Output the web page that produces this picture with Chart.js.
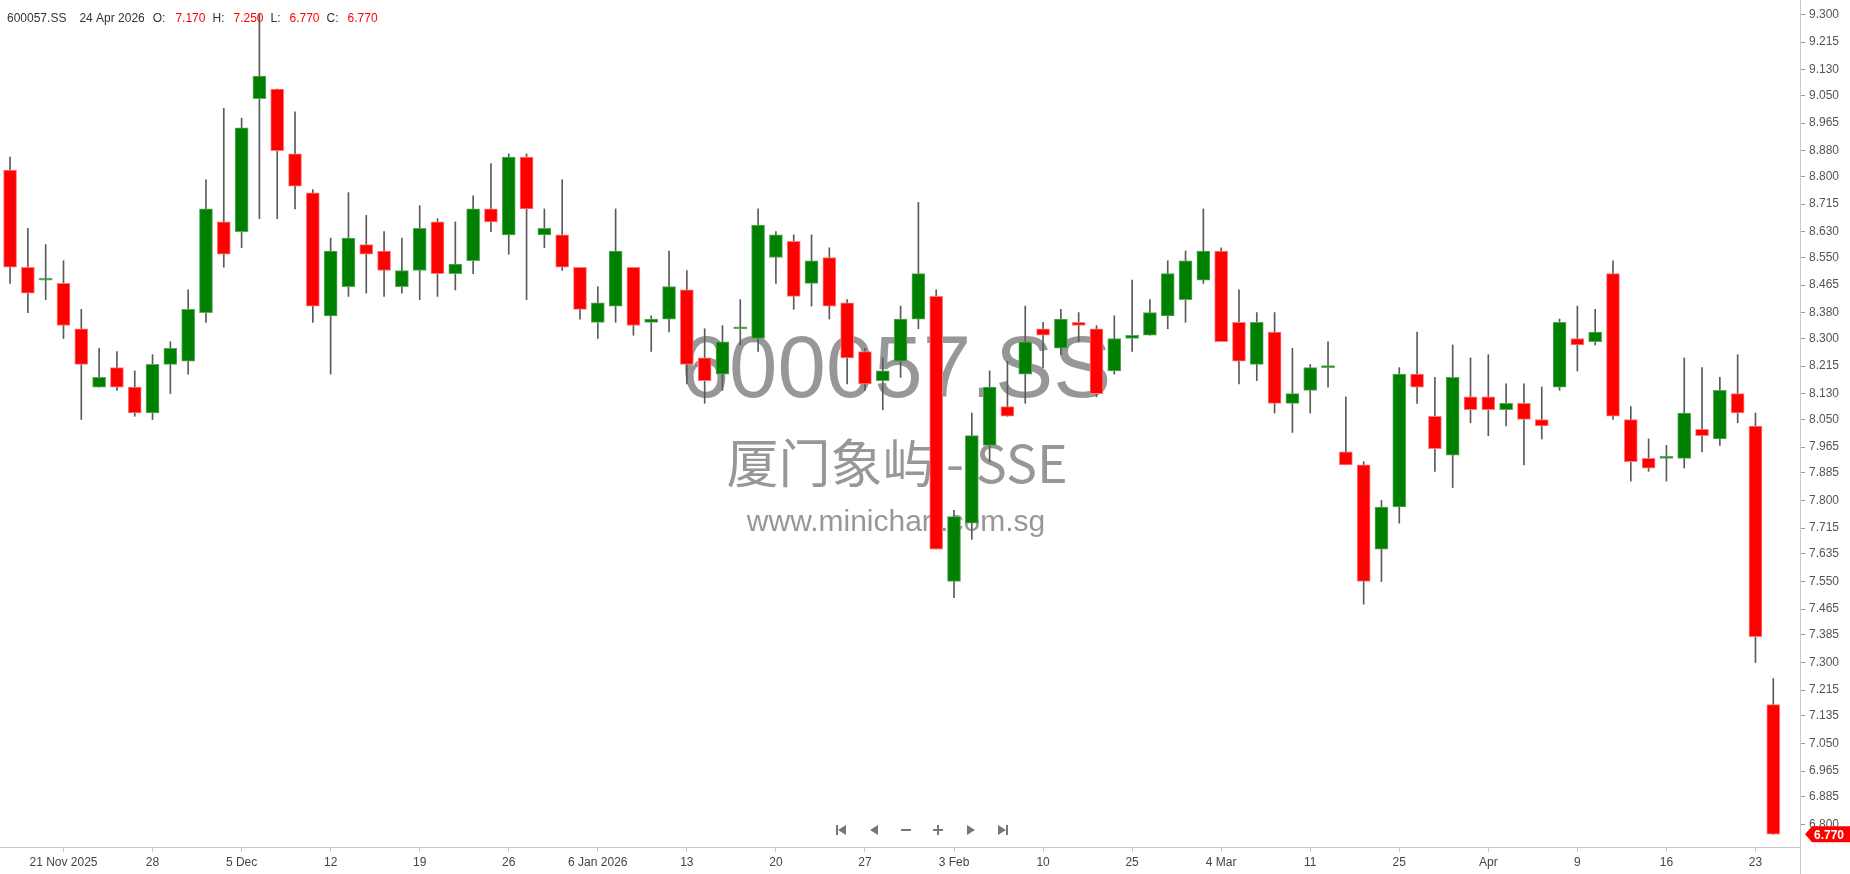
<!DOCTYPE html>
<html>
<head>
<meta charset="utf-8">
<title>600057.SS</title>
<script src="https://cdn.jsdelivr.net/npm/chart.js@4.4.1/dist/chart.umd.min.js"></script>
<style>
  html, body { margin: 0; padding: 0; background: #fff; }
  canvas { display: block; }
</style>
</head>
<body>
<canvas id="priceChart" width="1850" height="874"></canvas>
<script>
// daily candles, 18 Nov 2025 .. 24 Apr 2026
const symbol = '600057.SS';
const watermarkName = '厦门象屿 - SSE';
const watermarkSite = 'www.minichart.com.sg';
const lastDate = '24 Apr 2026';

const opens = [8.82, 8.52, 8.48, 8.47, 8.33, 8.15, 8.21, 8.15, 8.07, 8.22,
  8.23, 8.38, 8.66, 8.63, 9.04, 9.07, 8.87, 8.75, 8.37, 8.46,
  8.59, 8.57, 8.46, 8.51, 8.66, 8.50, 8.54, 8.70, 8.62, 8.86,
  8.62, 8.62, 8.52, 8.35, 8.40, 8.52, 8.35, 8.36, 8.45, 8.24,
  8.19, 8.33, 8.30, 8.55, 8.60, 8.47, 8.55, 8.41, 8.26, 8.17,
  8.23, 8.36, 8.43, 7.55, 7.73, 7.97, 8.09, 8.19, 8.33, 8.27,
  8.35, 8.33, 8.20, 8.30, 8.31, 8.37, 8.42, 8.48, 8.57, 8.35,
  8.22, 8.32, 8.10, 8.14, 8.21, 7.95, 7.91, 7.65, 7.78, 8.19,
  8.06, 7.94, 8.12, 8.12, 8.08, 8.10, 8.05, 8.15, 8.30, 8.29,
  8.50, 8.05, 7.93, 7.93, 7.93, 8.02, 7.99, 8.13, 8.03, 7.17];

const highs = [8.86, 8.64, 8.59, 8.54, 8.39, 8.27, 8.26, 8.20, 8.25, 8.29,
  8.45, 8.79, 9.01, 8.98, 9.30, 9.07, 9.00, 8.76, 8.61, 8.75,
  8.68, 8.63, 8.61, 8.71, 8.67, 8.66, 8.74, 8.84, 8.87, 8.87,
  8.70, 8.79, 8.52, 8.46, 8.70, 8.52, 8.37, 8.57, 8.51, 8.33,
  8.34, 8.42, 8.70, 8.63, 8.62, 8.62, 8.58, 8.42, 8.27, 8.24,
  8.40, 8.72, 8.45, 7.77, 8.07, 8.20, 8.23, 8.40, 8.35, 8.39,
  8.38, 8.34, 8.37, 8.48, 8.42, 8.54, 8.57, 8.70, 8.58, 8.45,
  8.38, 8.38, 8.27, 8.22, 8.29, 8.12, 7.92, 7.80, 8.21, 8.32,
  8.18, 8.28, 8.24, 8.25, 8.16, 8.16, 8.15, 8.36, 8.40, 8.39,
  8.54, 8.09, 7.99, 7.97, 8.24, 8.21, 8.18, 8.25, 8.07, 7.25];

const lows = [8.47, 8.38, 8.42, 8.30, 8.05, 8.15, 8.14, 8.06, 8.05, 8.13,
  8.19, 8.35, 8.52, 8.58, 8.67, 8.67, 8.70, 8.35, 8.19, 8.43,
  8.44, 8.43, 8.44, 8.42, 8.43, 8.45, 8.50, 8.63, 8.56, 8.42,
  8.58, 8.51, 8.36, 8.30, 8.35, 8.31, 8.26, 8.32, 8.16, 8.10,
  8.14, 8.28, 8.26, 8.47, 8.39, 8.40, 8.36, 8.16, 8.14, 8.08,
  8.18, 8.33, 7.65, 7.50, 7.68, 7.92, 8.06, 8.10, 8.21, 8.25,
  8.29, 8.12, 8.19, 8.26, 8.31, 8.33, 8.35, 8.47, 8.29, 8.16,
  8.17, 8.07, 8.01, 8.07, 8.15, 7.91, 7.48, 7.55, 7.73, 8.10,
  7.89, 7.84, 8.04, 8.00, 8.03, 7.91, 7.99, 8.14, 8.20, 8.28,
  8.05, 7.86, 7.89, 7.86, 7.90, 7.95, 7.97, 8.04, 7.30, 6.77];

const closes = [8.52, 8.44, 8.48, 8.34, 8.22, 8.18, 8.15, 8.07, 8.22, 8.27,
  8.39, 8.70, 8.56, 8.95, 9.11, 8.88, 8.77, 8.40, 8.57, 8.61,
  8.56, 8.51, 8.51, 8.64, 8.50, 8.53, 8.70, 8.66, 8.86, 8.70,
  8.64, 8.52, 8.39, 8.41, 8.57, 8.34, 8.36, 8.46, 8.22, 8.17,
  8.29, 8.33, 8.65, 8.62, 8.43, 8.54, 8.40, 8.24, 8.16, 8.20,
  8.36, 8.50, 7.65, 7.75, 8.00, 8.15, 8.06, 8.29, 8.31, 8.36,
  8.34, 8.13, 8.30, 8.31, 8.38, 8.50, 8.54, 8.57, 8.29, 8.23,
  8.35, 8.10, 8.13, 8.21, 8.21, 7.91, 7.55, 7.78, 8.19, 8.15,
  7.96, 8.18, 8.08, 8.08, 8.10, 8.05, 8.03, 8.35, 8.28, 8.32,
  8.06, 7.92, 7.90, 7.93, 8.07, 8.00, 8.14, 8.07, 7.38, 6.77];

// date axis: candle index of each label, and its text
const xTickPos = [3, 8, 13, 18, 23, 28, 33, 38, 43, 48, 53, 58, 63, 68, 73, 78, 83, 88, 93, 98];
const xTickLabels = ['21 Nov 2025', '28', '5 Dec', '12', '19', '26', '6 Jan 2026', '13', '20', '27',
  '3 Feb', '10', '25', '4 Mar', '11', '25', 'Apr', '9', '16', '23'];

const yTickLabels = ['9.300', '9.215', '9.130', '9.050', '8.965', '8.880', '8.800', '8.715',
  '8.630', '8.550', '8.465', '8.380', '8.300', '8.215', '8.130', '8.050', '7.965', '7.885',
  '7.800', '7.715', '7.635', '7.550', '7.465', '7.385', '7.300', '7.215', '7.135', '7.050',
  '6.965', '6.885', '6.800'];

const UP = '#008000', DOWN = '#ff0000';
const FONT = '"Liberation Sans", Arial, sans-serif';

const isUp = i => closes[i] >= opens[i];
const bodies = opens.map((o, i) => ({ x: i, y: [o, closes[i]] }));
const wicks = lows.map((l, i) => ({ x: i, y: [l, highs[i]] }));

// text and extras drawn straight on the canvas
const overlay = {
  id: 'overlay',
  beforeDatasetsDraw(chart) {
    const { ctx, chartArea } = chart;
    const cx = (chartArea.left + chartArea.right) / 2;
    ctx.save();
    ctx.textAlign = 'center';
    ctx.textBaseline = 'alphabetic';
    ctx.fillStyle = 'rgba(140,140,140,0.9)';
    ctx.font = '87px ' + FONT;
    ctx.fillText(symbol, cx - 4, 397);
    ctx.font = '52px "Noto Sans CJK SC", ' + FONT;
    ctx.fillText(watermarkName, cx - 3, 483);
    ctx.font = '30px ' + FONT;
    ctx.fillText(watermarkSite, cx - 4, 531);
    ctx.restore();
  },
  afterDraw(chart) {
    const { ctx, chartArea } = chart;
    const y = chart.scales.y;
    const n = closes.length - 1;
    ctx.save();

    // header line
    ctx.font = '12px ' + FONT;
    ctx.textBaseline = 'alphabetic';
    ctx.textAlign = 'left';
    const parts = [
      [symbol, '#333', 13], [lastDate, '#333', 8],
      ['O:', '#333', 10], [opens[n].toFixed(3), DOWN, 7],
      ['H:', '#333', 9], [highs[n].toFixed(3), DOWN, 7],
      ['L:', '#333', 9], [lows[n].toFixed(3), DOWN, 7],
      ['C:', '#333', 9], [closes[n].toFixed(3), DOWN, 0]
    ];
    let hx = 7;
    parts.forEach(([t, c, gap]) => {
      ctx.fillStyle = c;
      ctx.fillText(t, hx, 22);
      hx += ctx.measureText(t).width + gap;
    });

    // axis lines run on into the corner
    ctx.strokeStyle = '#c8c8c8';
    ctx.lineWidth = 1;
    ctx.beginPath();
    ctx.moveTo(chartArea.right + 0.5, chartArea.bottom);
    ctx.lineTo(chartArea.right + 0.5, chart.height);
    ctx.stroke();

    // last price tag
    const ty = y.getPixelForValue(closes[n]);
    const tx = chartArea.right + 5;
    ctx.fillStyle = DOWN;
    ctx.beginPath();
    ctx.moveTo(tx, ty);
    ctx.lineTo(tx + 7, ty - 8);
    ctx.lineTo(chart.width, ty - 8);
    ctx.lineTo(chart.width, ty + 8);
    ctx.lineTo(tx + 7, ty + 8);
    ctx.closePath();
    ctx.fill();
    ctx.fillStyle = '#fff';
    ctx.font = 'bold 12px ' + FONT;
    ctx.textBaseline = 'middle';
    ctx.fillText(closes[n].toFixed(3), tx + 9, ty + 1);

    // navigation buttons
    const ny = chartArea.bottom - 17;
    const nx = chartArea.left + (chartArea.right - chartArea.left) / 2;
    ctx.fillStyle = '#777';
    const tri = (tip, base) => {
      ctx.beginPath();
      ctx.moveTo(tip, ny);
      ctx.lineTo(base, ny - 5);
      ctx.lineTo(base, ny + 5);
      ctx.closePath();
      ctx.fill();
    };
    // |<
    ctx.fillRect(nx - 64, ny - 5, 2, 10);
    tri(nx - 62, nx - 54);
    // <
    tri(nx - 30, nx - 22);
    // -
    ctx.fillRect(nx + 1, ny - 1, 10, 2);
    // +
    ctx.fillRect(nx + 33, ny - 1, 10, 2);
    ctx.fillRect(nx + 37, ny - 5, 2, 10);
    // >
    tri(nx + 75, nx + 67);
    // >|
    tri(nx + 106, nx + 98);
    ctx.fillRect(nx + 106, ny - 5, 2, 10);

    ctx.restore();
  }
};

new Chart(document.getElementById('priceChart'), {
  type: 'bar',
  data: {
    datasets: [
      {
        label: 'body',
        data: bodies,
        order: 0,
        grouped: false,
        barThickness: 13,
        minBarLength: 2,
        backgroundColor: opens.map((o, i) => isUp(i) ? UP : DOWN),
        borderColor: opens.map((o, i) => isUp(i) ? '#5aa85a' : '#ff7a7a'),
        borderWidth: 1,
        borderSkipped: false
      },
      {
        label: 'wick',
        data: wicks,
        order: 1,
        grouped: false,
        barThickness: 1,
        backgroundColor: '#5a5a5a',
        borderWidth: 0
      }
    ]
  },
  options: {
    responsive: false,
    animation: false,
    events: [],
    layout: { padding: 0 },
    plugins: { legend: { display: false }, tooltip: { enabled: false } },
    scales: {
      x: {
        type: 'linear',
        min: -0.565,
        max: 100.5,
        offset: false,
        afterFit: s => { s.height = 27; s.paddingLeft = 0; s.paddingRight = 0; },
        afterBuildTicks: s => { s.ticks = xTickPos.map(v => ({ value: v })); },
        ticks: {
          autoSkip: false,
          maxRotation: 0,
          padding: 3,
          color: '#444',
          font: { family: FONT, size: 12 },
          callback: (v, i) => xTickLabels[i]
        },
        grid: { offset: false, drawOnChartArea: false, tickLength: 5, color: '#c8c8c8' },
        border: { color: '#c8c8c8' }
      },
      y: {
        position: 'right',
        min: 6.7305,
        max: 9.3448,
        afterFit: s => { s.width = 50; s.paddingTop = 0; s.paddingBottom = 0; },
        afterBuildTicks: s => { s.ticks = yTickLabels.map(t => ({ value: parseFloat(t) })); },
        ticks: {
          autoSkip: false,
          padding: 4,
          color: '#555',
          font: { family: FONT, size: 12 },
          callback: v => v.toFixed(3)
        },
        grid: { drawOnChartArea: false, tickLength: 5, color: '#999' },
        border: { color: '#c8c8c8' }
      }
    }
  },
  plugins: [overlay]
});
</script>
</body>
</html>
